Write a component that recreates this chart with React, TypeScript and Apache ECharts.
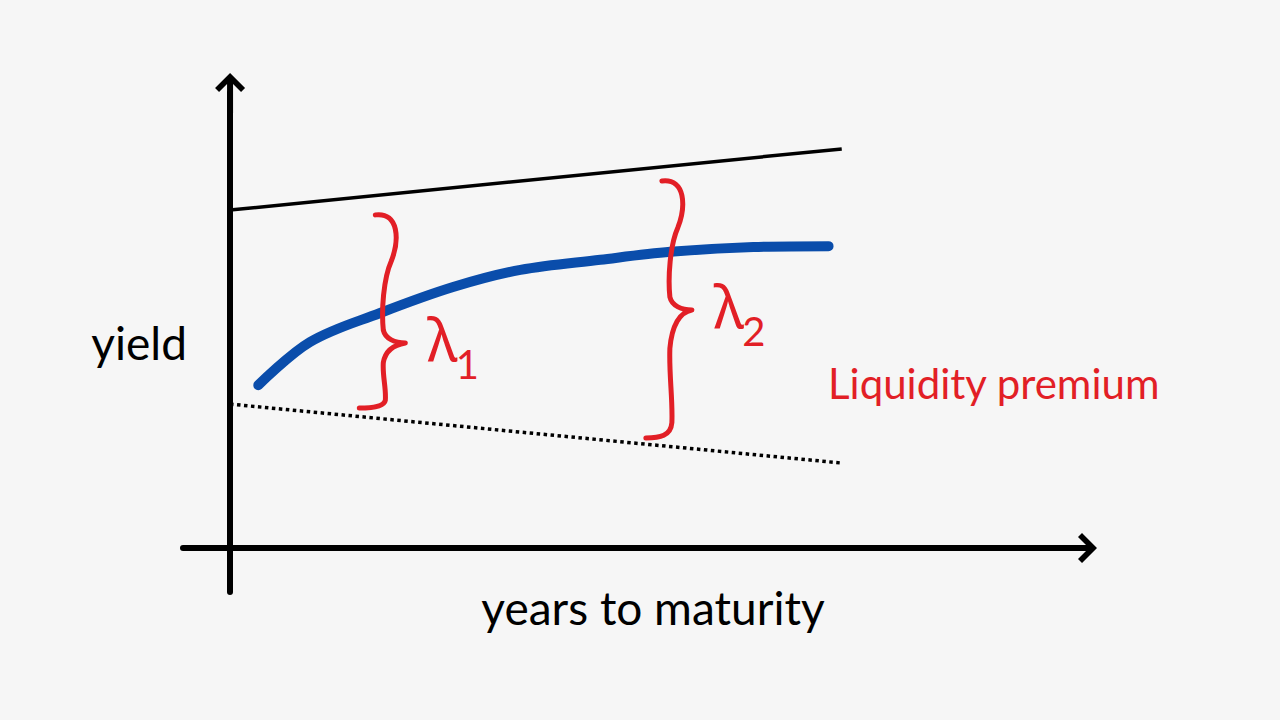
import React, { useEffect, useRef } from "react";
import * as echarts from "echarts";

// Axis extents (years, yield units)
const xRange = [-1, 18];
const yRange = [-1, 10.34];

// Upper solid line
const upperYears = [0, 13];
const upperYield = [7.68, 9.07];

// Blue yield curve
const curveYears = [0.6, 1.7, 3.19, 4.74, 6.17, 7.87, 9.36, 11.12, 12.72];
const curveYield = [3.7, 4.68, 5.34, 5.93, 6.32, 6.55, 6.73, 6.84, 6.86];

// Lower dotted line
const lowerYears = [0, 13];
const lowerYield = [3.27, 1.93];

// Liquidity premium braces
const braceYears = [3.3, 9.39];
const braceTop = [7.57, 8.34];
const braceBottom = [3.18, 2.5];
const braceTip = [4.66, 5.41];
const braceLabels = ["1", "2"];

const xName = "years to maturity";
const yName = "yield";
const premiumLabel = "Liquidity premium";

const RED = "#e21f26";
const BLUE = "#0a4dab";
const HAND = "Lato, 'Noto Sans', sans-serif";

const ARROW =
  "path://M16,0 L31,15 L27,19 L19,11 L19,40 L13,40 L13,11 L5,19 L1,15 Z";

function buildOption() {
  const zip = (a: number[], b: number[]) => a.map((v, i) => [v, b[i]]);
  const axisCommon = {
    type: "value" as const,
    axisTick: { show: false },
    axisLabel: { show: false },
    splitLine: { show: false },
    axisLine: {
      onZero: true,
      symbol: ["none", ARROW],
      symbolSize: [30, 40],
      lineStyle: { color: "#000", width: 6 },
    },
  };
  return {
    animation: false,
    backgroundColor: "#f6f6f6",
    grid: { left: 183, right: 203, top: 93, bottom: 128 },
    xAxis: {
      ...axisCommon,
      min: xRange[0],
      max: xRange[1],
      name: xName,
      nameLocation: "middle",
      nameGap: -8,
      nameTextStyle: {
        fontFamily: HAND,
        fontSize: 46,
        color: "#000",
        padding: [0, 0, 0, 46],
      },
    },
    yAxis: {
      ...axisCommon,
      min: yRange[0],
      max: yRange[1],
      name: yName,
      nameLocation: "middle",
      nameRotate: 0,
      nameGap: -4,
      nameTextStyle: {
        fontFamily: HAND,
        fontSize: 46,
        color: "#000",
        padding: [0, 0, 16, 0],
      },
    },
    graphic: [
      {
        type: "text",
        left: 828,
        top: 362,
        silent: true,
        style: {
          text: premiumLabel,
          fill: RED,
          fontFamily: HAND,
          fontSize: 42,
        },
      },
    ],
    series: [
      {
        type: "line",
        data: zip(upperYears, upperYield),
        symbol: "none",
        silent: true,
        lineStyle: { color: "#000", width: 3.5 },
      },
      {
        type: "line",
        data: zip(lowerYears, lowerYield),
        symbol: "none",
        silent: true,
        lineStyle: { color: "#000", width: 3.5, type: [3.5, 3.5] },
      },
      {
        type: "line",
        data: zip(curveYears, curveYield),
        symbol: "none",
        smooth: 0.35,
        silent: true,
        lineStyle: { color: BLUE, width: 10, cap: "round", join: "round" },
        z: 3,
      },
      {
        type: "custom",
        silent: true,
        clip: false,
        z: 4,
        encode: { x: 0, y: [1, 2, 3] },
        data: braceYears.map((x, i) => [x, braceTop[i], braceBottom[i], braceTip[i], i]),
        renderItem: (params: any, api: any) => {
          const x = api.value(0);
          const pt = api.coord([x, api.value(1)]);
          const pb = api.coord([x, api.value(2)]);
          const pm = api.coord([x, api.value(3)]);
          const idx = api.value(4);
          const xc = pt[0];
          const yt = pt[1];
          const yb = pb[1];
          const ym = pm[1];
          const U = ym - yt;
          const L = yb - ym;
          const d =
            `M${xc - 10},${yt} ` +
            `C${xc + 14},${yt - 3} ${xc + 14},${yt + 0.2 * U} ${xc + 6},${yt + 0.36 * U} ` +
            `C${xc - 2},${yt + 0.5 * U} ${xc - 4},${ym - 0.25 * U} ${xc - 2},${ym - 0.1 * U} ` +
            `C${xc},${ym - 0.03 * U} ${xc + 10},${ym} ${xc + 20},${ym} ` +
            `C${xc + 8},${ym + 2} ${xc},${ym + 0.12 * L} ${xc - 2},${ym + 0.3 * L} ` +
            `C${xc - 3},${ym + 0.5 * L} ${xc + 1},${yb - 0.3 * L} ${xc},${yb - 0.12 * L} ` +
            `C${xc - 1},${yb - 2} ${xc - 12},${yb} ${xc - 26},${yb}`;
          return {
            type: "group",
            children: [
              {
                type: "path",
                shape: { pathData: d },
                style: {
                  fill: "none",
                  stroke: RED,
                  lineWidth: 5,
                  lineCap: "round",
                  lineJoin: "round",
                },
              },
              {
                type: "text",
                style: {
                  text: "λ",
                  x: xc + 57,
                  y: ym - 4,
                  align: "center",
                  verticalAlign: "middle",
                  fill: RED,
                  fontSize: 58,
                  fontFamily: "'Noto Sans', 'DejaVu Sans', sans-serif",
                },
              },
              {
                type: "text",
                style: {
                  text: braceLabels[idx],
                  x: xc + 82,
                  y: ym + 21,
                  align: "center",
                  verticalAlign: "middle",
                  fill: RED,
                  fontSize: 40,
                  fontFamily: HAND,
                },
              },
            ],
          };
        },
      },
    ],
  };
}

export default function App() {
  const ref = useRef<HTMLDivElement>(null);
  useEffect(() => {
    if (!ref.current) return;
    const chart = echarts.init(ref.current, null, { renderer: "svg" });
    chart.setOption(buildOption() as any);
    return () => chart.dispose();
  }, []);
  return (
    <div
      ref={ref}
      style={{ position: "fixed", left: 0, top: 0, width: 1280, height: 720 }}
    />
  );
}
